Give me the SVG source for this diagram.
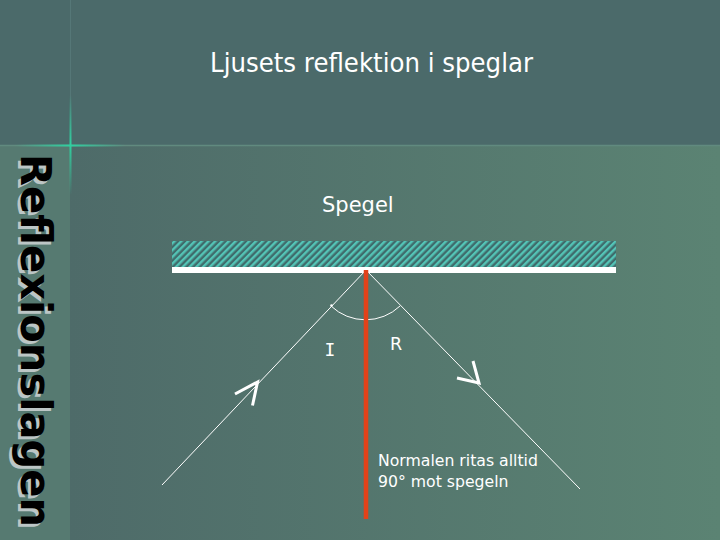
<svg xmlns="http://www.w3.org/2000/svg" width="720" height="540" viewBox="0 0 720 540">
  <defs>
    <linearGradient id="lowerBg" x1="70" y1="0" x2="720" y2="0" gradientUnits="userSpaceOnUse">
      <stop offset="0" stop-color="#4e6b69"/>
      <stop offset="1" stop-color="#5b8373"/>
    </linearGradient>
    <linearGradient id="glowH" x1="15" y1="0" x2="125" y2="0" gradientUnits="userSpaceOnUse">
      <stop offset="0" stop-color="#30d0a0" stop-opacity="0"/>
      <stop offset="0.5" stop-color="#30d0a0" stop-opacity="1"/>
      <stop offset="1" stop-color="#30d0a0" stop-opacity="0"/>
    </linearGradient>
    <linearGradient id="glowV" x1="0" y1="95" x2="0" y2="195" gradientUnits="userSpaceOnUse">
      <stop offset="0" stop-color="#30d0a0" stop-opacity="0"/>
      <stop offset="0.5" stop-color="#30d0a0" stop-opacity="1"/>
      <stop offset="1" stop-color="#30d0a0" stop-opacity="0"/>
    </linearGradient>
    <pattern id="hatch" width="4.8" height="10" patternUnits="userSpaceOnUse" patternTransform="rotate(45)">
      <rect x="0" y="0" width="4.8" height="10" fill="#3f6b6b"/>
      <rect x="0" y="0" width="2.4" height="10" fill="#54c4b6"/>
    </pattern>
    <style>
      .ray { stroke: #ffffff; stroke-width: 1; fill: none; }
      .head { stroke: #ffffff; stroke-width: 3; fill: none; stroke-linecap: butt; stroke-linejoin: miter; }
      .lbl { fill: #ffffff; font-family: "DejaVu Sans", sans-serif; }
      .side { font-family: "DejaVu Sans", "Liberation Sans", sans-serif; font-weight: bold; font-size: 42px; }
    </style>
  </defs>

  <g id="background">
    <rect x="0" y="0" width="720" height="540" fill="#4b6a6a"/>
    <rect x="0" y="145" width="720" height="395" fill="url(#lowerBg)"/>
    <rect x="0" y="145" width="70" height="395" fill="#567a71"/>
    <line x1="0" y1="145.5" x2="720" y2="145.5" stroke="#618a7f" stroke-width="1.5"/>
    <line x1="70.5" y1="0" x2="70.5" y2="145" stroke="#557777" stroke-width="1"/>
    <line x1="15" y1="145.5" x2="125" y2="145.5" stroke="url(#glowH)" stroke-width="2"/>
    <line x1="70.5" y1="95" x2="70.5" y2="195" stroke="url(#glowV)" stroke-width="2"/>
  </g>

  <g id="title">
    <text x="210" y="72" class="lbl" font-size="27" textLength="323" lengthAdjust="spacingAndGlyphs">Ljusets reflektion i speglar</text>
  </g>

  <g id="sidebar">
    <text class="side" fill="#bcc6c6" transform="translate(18,157) rotate(90)" textLength="373" lengthAdjust="spacingAndGlyphs">Reflexionslagen</text>
    <text class="side" fill="#000000" transform="translate(21,154) rotate(90)" textLength="373" lengthAdjust="spacingAndGlyphs">Reflexionslagen</text>
  </g>

  <g id="mirror">
    <rect x="172" y="241" width="444" height="26" fill="url(#hatch)"/>
    <rect x="172" y="267" width="444" height="6" fill="#ffffff"/>
    <text x="322" y="212" class="lbl" font-size="21">Spegel</text>
  </g>

  <g id="connectors">
    <line id="incident" class="ray" x1="162" y1="485" x2="366" y2="270"/>
    <line id="reflected" class="ray" x1="366" y1="270" x2="580" y2="489"/>
    <path id="angle-arc" class="ray" d="M331,306 A50,50 0 0 0 400,306"/>
    <circle cx="331.5" cy="305.5" r="1.3" fill="#ffffff"/>
    <polyline class="head" points="235,394 257.5,382 252.5,405.5"/>
    <polyline class="head" points="473,361 479,383 457,378"/>
  </g>

  <g id="normal">
    <line x1="366" y1="270" x2="366" y2="519" stroke="#e2421a" stroke-width="4.5"/>
    <text x="378" y="466" class="lbl" font-size="15.7">Normalen ritas alltid</text>
    <text x="378" y="487" class="lbl" font-size="15.7">90° mot spegeln</text>
  </g>

  <g id="labels">
    <text x="330" y="356" fill="#ffffff" font-family="DejaVu Sans Mono, monospace" font-size="18" text-anchor="middle">I</text>
    <text x="396" y="350" class="lbl" font-size="17.5" text-anchor="middle">R</text>
  </g>
</svg>
